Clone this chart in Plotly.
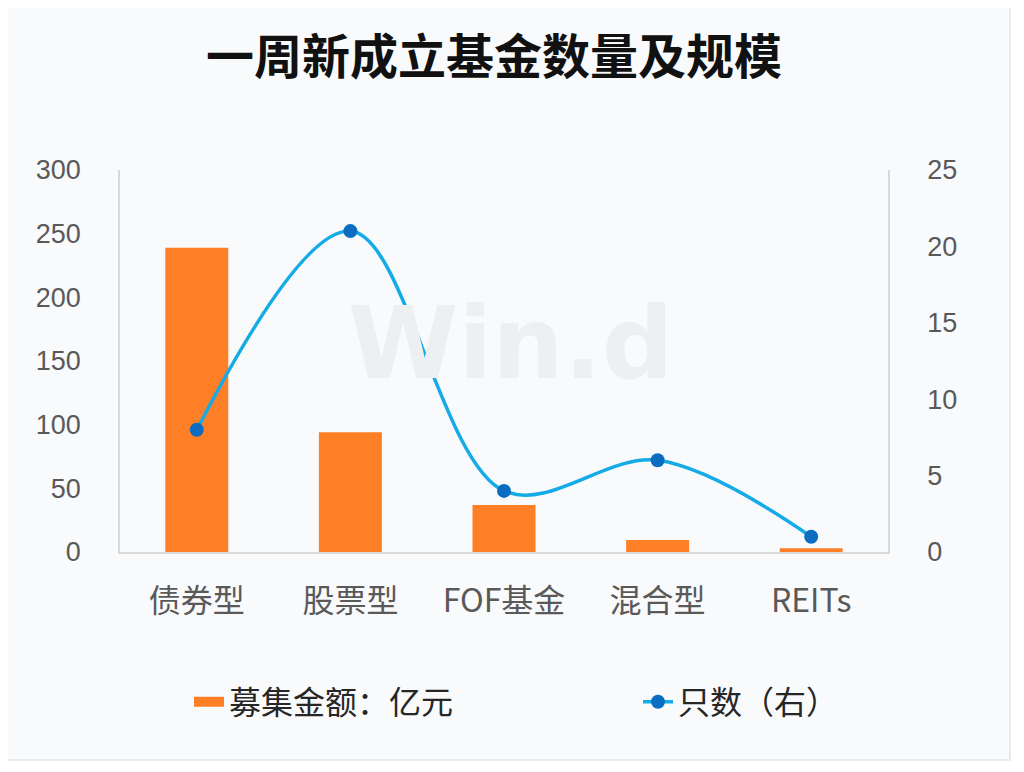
import plotly.graph_objects as go

categories = ["债券型", "股票型", "FOF基金", "混合型", "REITs"]
amount = [239, 94, 37, 9.5, 3]      # 募集金额：亿元 (left axis)
counts = [8, 21, 4, 6, 1]           # 只数（右）(right axis)
left_ticks = [0, 50, 100, 150, 200, 250, 300]
right_ticks = [0, 5, 10, 15, 20, 25]

FONT = "Liberation Sans, Arial, Noto Sans CJK SC, sans-serif"
CJK = "Noto Sans CJK SC, Liberation Sans, sans-serif"
ORANGE = "#FF7F27"
LINE = "#14ABE6"
MARK = "#0A6DC2"

# page body has an 8px margin; the figure is sized so it sits inside it
W, H = 1008, 756
L, R, T, B = 112, 128, 162, 212
pw, ph = W - L - R, H - T - B

def px_x(x):
    return (x - L) / pw

def px_y(y):
    return (H - B - y) / ph

fig = go.Figure()
fig.add_trace(go.Bar(
    x=categories, y=amount, name="募集金额：亿元",
    marker=dict(color=ORANGE, line=dict(width=0)),
    width=0.41, yaxis="y", showlegend=False,
))
# legend entry for the bars (wide rectangle swatch)
fig.add_trace(go.Scatter(
    x=[None], y=[None], name="募集金额：亿元", mode="lines",
    line=dict(color=ORANGE, width=14), legend="legend",
))
fig.add_trace(go.Scatter(
    x=categories, y=counts, name="只数（右）", mode="lines+markers",
    line=dict(color=LINE, width=3.5, shape="spline", smoothing=1.0),
    marker=dict(color=MARK, size=14),
    yaxis="y2", legend="legend2",
))

fig.add_shape(type="rect", xref="paper", yref="paper",
              x0=px_x(-2), x1=px_x(1002), y0=px_y(752), y1=px_y(-1),
              fillcolor="#F9FAFC", line=dict(color="#E3E5EA", width=1.5),
              layer="below")

fig.add_annotation(text="<b>Win.d</b>", xref="paper", yref="paper",
                   x=px_x(502), y=px_y(335), showarrow=False,
                   font=dict(family="DejaVu Sans, Liberation Sans", size=100, color="#EEEFF1"))

legend_common = dict(orientation="h", xref="paper", yref="paper", xanchor="left",
                     yanchor="middle", y=px_y(694), bgcolor="rgba(0,0,0,0)",
                     font=dict(family=CJK, size=32, color="#262626"), itemwidth=30)

fig.update_layout(
    width=W, height=H,
    margin=dict(l=L, r=R, t=T, b=B),
    paper_bgcolor="white", plot_bgcolor="rgba(0,0,0,0)",
    title=dict(text="<b>一周新成立基金数量及规模</b>", x=px_x(486), xanchor="center",
               xref="paper", y=1 - 49 / H, yanchor="middle",
               font=dict(family=CJK, size=48, color="#111111")),
    font=dict(family=FONT, color="#595959"),
    xaxis=dict(showline=True, linecolor="#D9D9D9", linewidth=2, ticks="",
               tickfont=dict(family=CJK, size=32, color="#595959"),
               ticklabelstandoff=20, range=[-0.5, 4.5], showgrid=False),
    yaxis=dict(range=[0, 300], tickvals=left_ticks, showgrid=False,
               showline=True, linecolor="#D9D9D9", linewidth=1.5,
               tickfont=dict(size=27, color="#595959"), ticklabelstandoff=32,
               zeroline=False),
    yaxis2=dict(range=[0, 25], tickvals=right_ticks, overlaying="y", side="right",
                showgrid=False, showline=True, linecolor="#D9D9D9", linewidth=1.5,
                tickfont=dict(size=27, color="#595959"), ticklabelstandoff=32,
                zeroline=False),
    legend=dict(x=px_x(181), **legend_common),
    legend2=dict(x=px_x(630), **legend_common),
    showlegend=True,
)

fig.write_html("out.html")
